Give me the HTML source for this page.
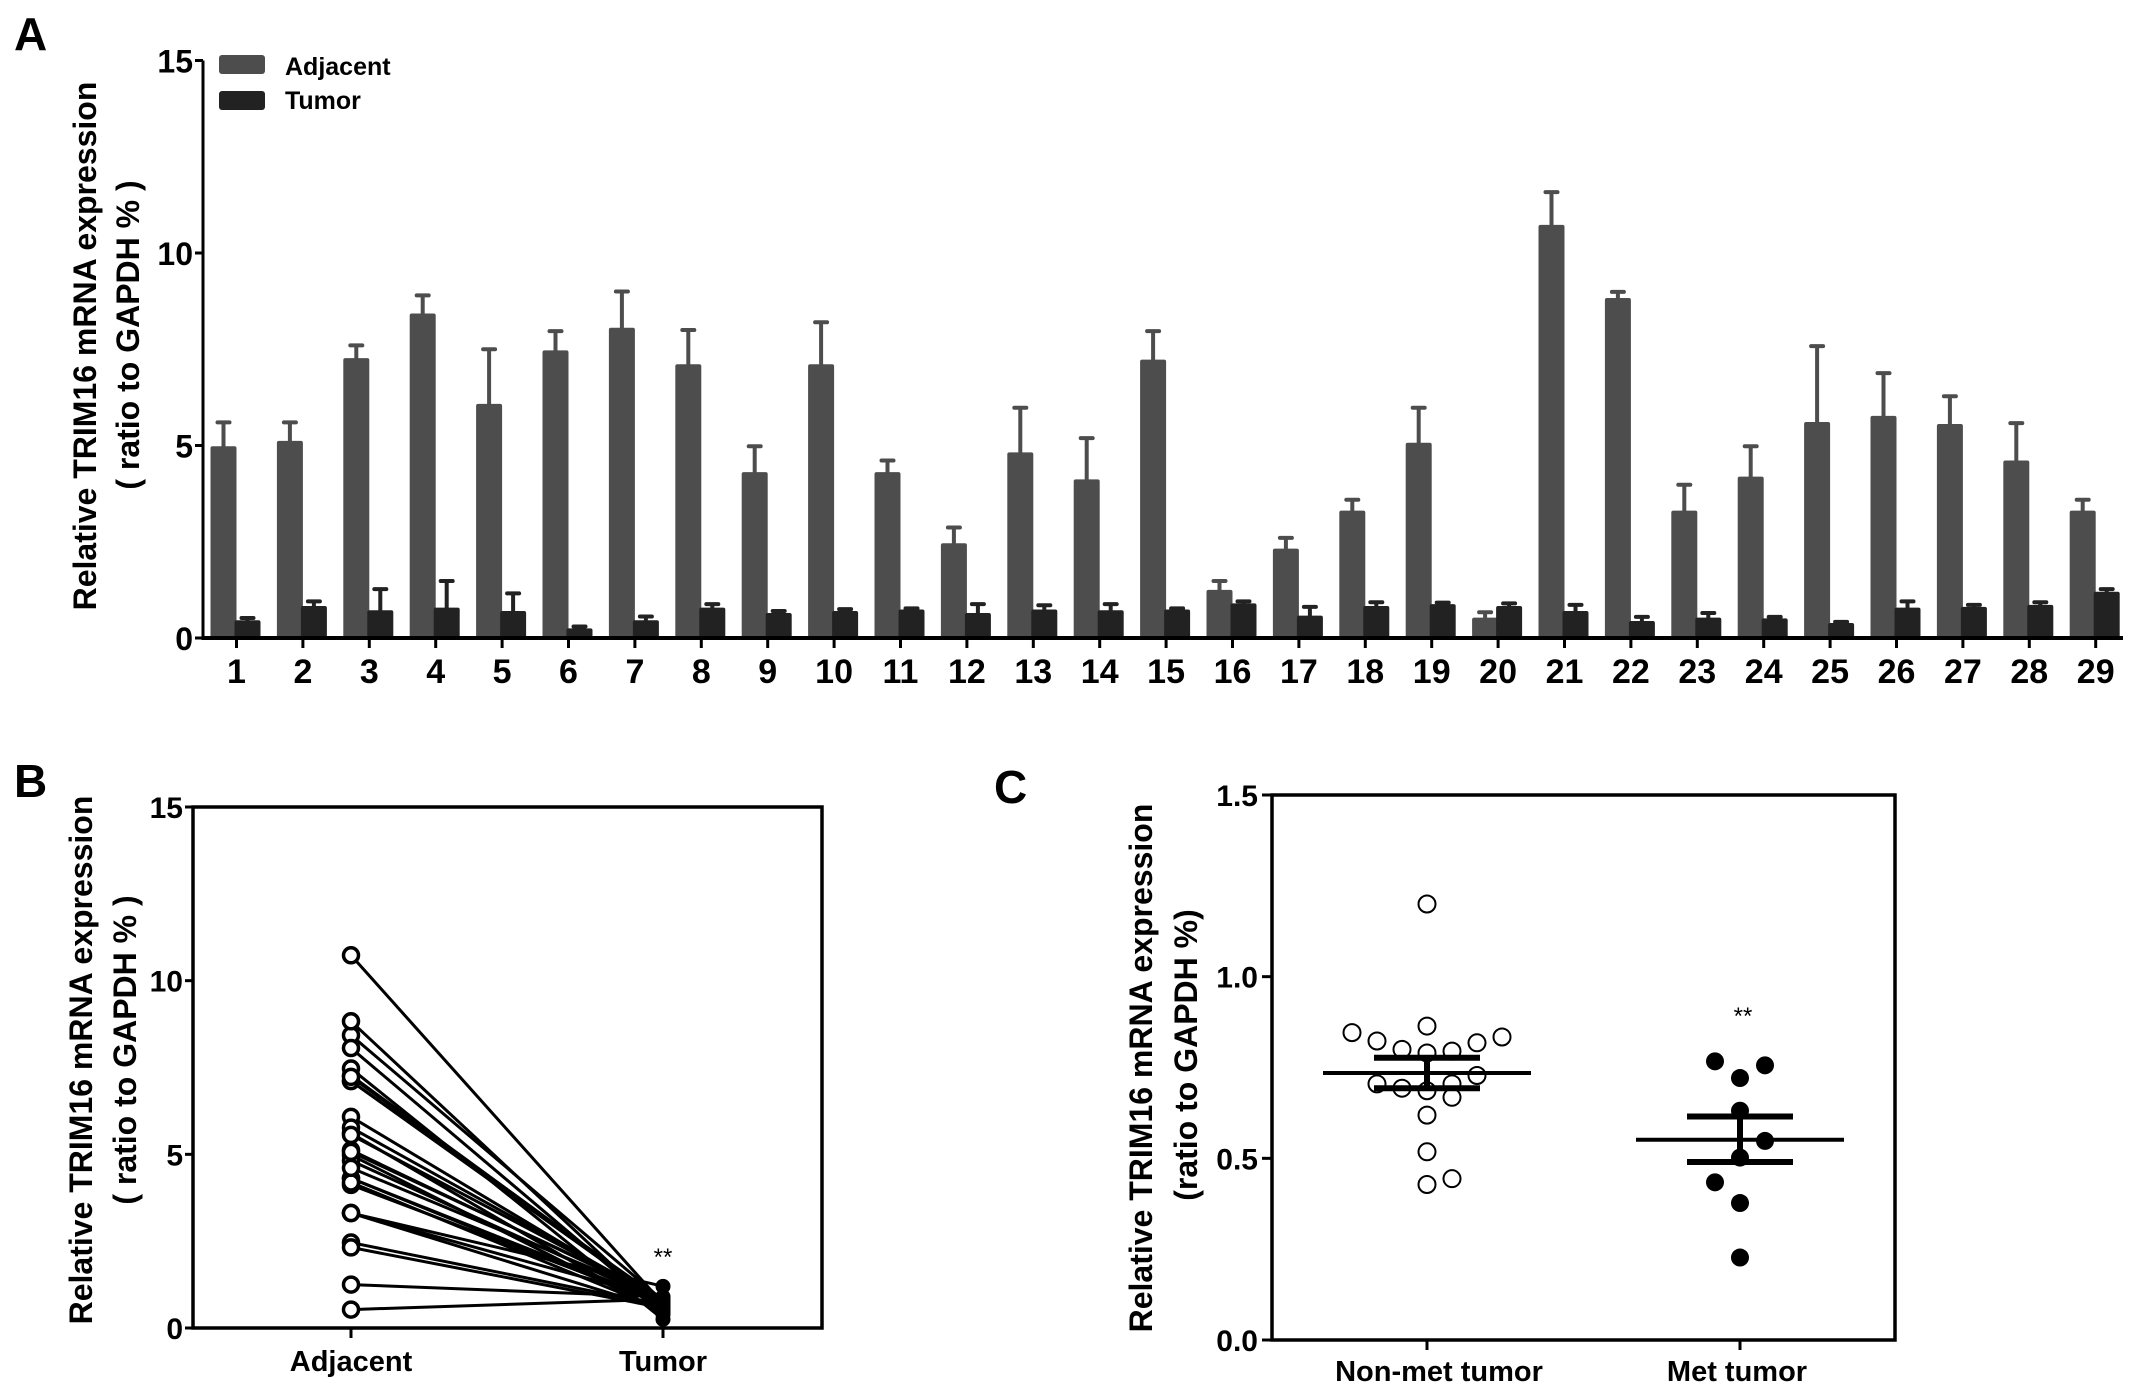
<!DOCTYPE html>
<html><head><meta charset="utf-8"><style>
html,body{margin:0;padding:0;background:#fff;}
svg{display:block;font-family:"Liberation Sans",Arial,sans-serif;font-weight:bold;}
</style></head><body>
<svg id="fig" width="2150" height="1397" viewBox="0 0 2150 1397" xmlns="http://www.w3.org/2000/svg">
<rect width="2150" height="1397" fill="#fff"/>
<text x="14" y="50" font-size="46">A</text>
<text x="14" y="797" font-size="46">B</text>
<text x="994" y="803" font-size="46">C</text>
<g id="pA"></g>
<g id="pB"></g>
<g id="pC"></g>
</svg>
<script>
const samples = ["1","2","3","4","5","6","7","8","9","10","11","12","13","14","15","16","17","18","19","20","21","22","23","24","25","26","27","28","29"];
const adjacentMean = [4.98,5.12,7.27,8.43,6.08,7.47,8.06,7.11,4.31,7.11,4.31,2.46,4.82,4.12,7.23,1.25,2.32,3.31,5.07,0.53,10.73,8.83,3.31,4.19,5.61,5.77,5.56,4.61,3.31];
const adjacentErr = [5.6,5.6,7.6,8.9,7.5,7.97,9.0,8.0,4.98,8.2,4.61,2.87,5.98,5.19,7.97,1.48,2.6,3.59,5.98,0.67,11.58,8.99,3.98,4.98,7.58,6.88,6.28,5.58,3.59];
const tumorMean = [0.46,0.83,0.72,0.79,0.7,0.25,0.46,0.79,0.65,0.7,0.74,0.65,0.74,0.72,0.74,0.9,0.58,0.83,0.88,0.83,0.7,0.44,0.53,0.51,0.39,0.79,0.81,0.86,1.2];
const tumorErr = [0.52,0.95,1.27,1.48,1.16,0.3,0.56,0.88,0.7,0.75,0.77,0.88,0.85,0.88,0.77,0.95,0.81,0.93,0.92,0.9,0.86,0.55,0.65,0.55,0.42,0.95,0.86,0.93,1.27];
const yTicksA = ["0","5","10","15"];
const yTicksB = ["0","5","10","15"];
const groupsB = ["Adjacent","Tumor"];
const groupsC = ["Non-met tumor","Met tumor"];
const yTicksC = ["0.0","0.5","1.0","1.5"];
const nonMetValues = [1.20,0.846,0.823,0.80,0.864,0.79,0.795,0.818,0.834,0.705,0.693,0.686,0.705,0.728,0.668,0.619,0.518,0.428,0.444];
const nonMetJitter = [0,-3,-2,-1,0,0,1,2,3,-2,-1,0,1,2,1,0,0,0,1];
const metValues = [0.767,0.756,0.721,0.631,0.548,0.502,0.434,0.377,0.227];
const metJitter = [-1,1,0,0,1,0,-1,0,0];
const meanC = [0.735,0.551];
const semLowC = [0.693,0.49];
const semHighC = [0.777,0.615];

const NS="http://www.w3.org/2000/svg";
function el(parent,tag,attrs,text){const e=document.createElementNS(NS,tag);for(const k in attrs)e.setAttribute(k,attrs[k]);if(text!==undefined)e.textContent=text;parent.appendChild(e);return e;}

// Panel A
const A=document.getElementById('pA');
const axA={x0:203,x1:2123,y0:638,yTop:60.5,max:15,first:236.5,step:66.4};
const yA=v=>axA.y0-(axA.y0-axA.yTop)*v/axA.max;
const xA=i=>axA.first+i*axA.step;
let t=el(A,'text',{x:0,y:0,'font-size':32,'text-anchor':'middle',transform:'translate(96,346) rotate(-90)'},'Relative TRIM16 mRNA expression');

t=el(A,'text',{x:0,y:0,'font-size':32,'text-anchor':'middle','xml:space':'preserve',transform:'translate(139,335) rotate(-90)'},'( ratio to  GAPDH % )');

samples.forEach((s,i)=>{
  const x=xA(i);
  let r=el(A,'rect',{x:x-26,y:yA(adjacentMean[i]),width:26,height:axA.y0-yA(adjacentMean[i]),fill:'#4d4d4d',rx:2});
  
  let e=el(A,'path',{d:`M${x-13} ${yA(adjacentMean[i])}V${yA(adjacentErr[i])}M${x-19} ${yA(adjacentErr[i])}H${x-7}`,stroke:'#4d4d4d','stroke-width':4,'stroke-linecap':'round',fill:'none'});
  
  e=el(A,'path',{d:`M${x+11} ${yA(tumorMean[i])}V${yA(tumorErr[i])}M${x+5} ${yA(tumorErr[i])}H${x+17}`,stroke:'#222','stroke-width':4,'stroke-linecap':'round',fill:'none'});
  
  r=el(A,'rect',{x:x-2,y:yA(tumorMean[i]),width:26,height:axA.y0-yA(tumorMean[i]),fill:'#222',rx:2});
  
  el(A,'line',{x1:x,x2:x,y1:axA.y0,y2:axA.y0+10,stroke:'#000','stroke-width':3});
  t=el(A,'text',{x:x,y:683,'font-size':34,'text-anchor':'middle'},s);
  
});
el(A,'line',{x1:axA.x0,x2:axA.x0,y1:axA.yTop,y2:axA.y0+2,stroke:'#000','stroke-width':3});
el(A,'line',{x1:axA.x0,x2:axA.x1,y1:axA.y0,y2:axA.y0,stroke:'#000','stroke-width':4});
yTicksA.forEach(s=>{const y=yA(+s);el(A,'line',{x1:axA.x0-8,x2:axA.x0,y1:y,y2:y,stroke:'#000','stroke-width':3});
  t=el(A,'text',{x:axA.x0-10,y:y+12,'font-size':32,'text-anchor':'end'},s);});
let lg=el(A,'rect',{x:219,y:55,width:46,height:19,fill:'#4d4d4d',rx:3});
lg=el(A,'rect',{x:219,y:91,width:46,height:19,fill:'#222',rx:3});
t=el(A,'text',{x:285,y:75,'font-size':25},'Adjacent');
t=el(A,'text',{x:285,y:109,'font-size':25},'Tumor');

// Panel B
const B=document.getElementById('pB');
const axB={x0:193,x1:822,top:807,bot:1328,max:15,cx:[351,663]};
const yB=v=>axB.bot-(axB.bot-axB.top)*v/axB.max;
t=el(B,'text',{x:0,y:0,'font-size':32,'text-anchor':'middle',transform:'translate(92,1060) rotate(-90)'},'Relative TRIM16 mRNA expression');

t=el(B,'text',{x:0,y:0,'font-size':32,'text-anchor':'middle','xml:space':'preserve',transform:'translate(136,1050) rotate(-90)'},'( ratio to  GAPDH % )');

adjacentMean.forEach((v,i)=>{let l=el(B,'line',{x1:axB.cx[0],y1:yB(v),x2:axB.cx[1],y2:yB(tumorMean[i]),stroke:'#000','stroke-width':3});
  });
adjacentMean.forEach((v,i)=>{let c=el(B,'circle',{cx:axB.cx[0],cy:yB(v),r:7.5,fill:'#fff',stroke:'#000','stroke-width':3.5});
  });
tumorMean.forEach((v,i)=>{let c=el(B,'circle',{cx:axB.cx[1],cy:yB(v),r:7.5,fill:'#000'});
  });
el(B,'rect',{x:axB.x0,y:axB.top,width:axB.x1-axB.x0,height:axB.bot-axB.top,fill:'none',stroke:'#000','stroke-width':3.5});
yTicksB.forEach(s=>{const y=yB(+s);el(B,'line',{x1:axB.x0-8,x2:axB.x0,y1:y,y2:y,stroke:'#000','stroke-width':3});
  t=el(B,'text',{x:axB.x0-10,y:y+11,'font-size':30,'text-anchor':'end'},s);});
groupsB.forEach((g,i)=>{el(B,'line',{x1:axB.cx[i],x2:axB.cx[i],y1:axB.bot,y2:axB.bot+10,stroke:'#000','stroke-width':3});
  t=el(B,'text',{x:axB.cx[i],y:1371,'font-size':29,'text-anchor':'middle'},g);});
t=el(B,'text',{x:axB.cx[1],y:1265,'font-size':24,'font-weight':'normal','text-anchor':'middle'},'**');

// Panel C
const C=document.getElementById('pC');
const axC={x0:1272,x1:1895,top:795,bot:1340,max:1.5,cx:[1427,1740],jit:25};
const yC=v=>axC.bot-(axC.bot-axC.top)*v/axC.max;
t=el(C,'text',{x:0,y:0,'font-size':32,'text-anchor':'middle',transform:'translate(1152,1068) rotate(-90)'},'Relative TRIM16 mRNA expression');

t=el(C,'text',{x:0,y:0,'font-size':32,'text-anchor':'middle',transform:'translate(1197,1055) rotate(-90)'},'(ratio to GAPDH %)');

nonMetValues.forEach((v,i)=>{let c=el(C,'circle',{cx:axC.cx[0]+nonMetJitter[i]*axC.jit,cy:yC(v),r:8.5,fill:'#fff',stroke:'#000','stroke-width':2});
  });
metValues.forEach((v,i)=>{let c=el(C,'circle',{cx:axC.cx[1]+metJitter[i]*axC.jit,cy:yC(v),r:9,fill:'#000'});
  });
meanC.forEach((m,i)=>{const cx=axC.cx[i];
  let l=el(C,'line',{x1:cx-104,x2:cx+104,y1:yC(m),y2:yC(m),stroke:'#000','stroke-width':4});
  l=el(C,'path',{d:`M${cx} ${yC(semLowC[i])}V${yC(semHighC[i])}M${cx-53} ${yC(semLowC[i])}H${cx+53}M${cx-53} ${yC(semHighC[i])}H${cx+53}`,stroke:'#000','stroke-width':6,fill:'none'});
  });
el(C,'rect',{x:axC.x0,y:axC.top,width:axC.x1-axC.x0,height:axC.bot-axC.top,fill:'none',stroke:'#000','stroke-width':3.5});
yTicksC.forEach(s=>{const y=yC(+s);el(C,'line',{x1:axC.x0-10,x2:axC.x0,y1:y,y2:y,stroke:'#000','stroke-width':3});
  t=el(C,'text',{x:axC.x0-14,y:y+11,'font-size':30,'text-anchor':'end'},s);});
groupsC.forEach((g,i)=>{el(C,'line',{x1:axC.cx[i],x2:axC.cx[i],y1:axC.bot,y2:axC.bot+10,stroke:'#000','stroke-width':3});
  t=el(C,'text',{x:axC.cx[i]+(i?-3:12),y:1381,'font-size':29,'text-anchor':'middle'},g);});
t=el(C,'text',{x:axC.cx[1]+3,y:1024,'font-size':24,'font-weight':'normal','text-anchor':'middle'},'**');
</script>
</body></html>
